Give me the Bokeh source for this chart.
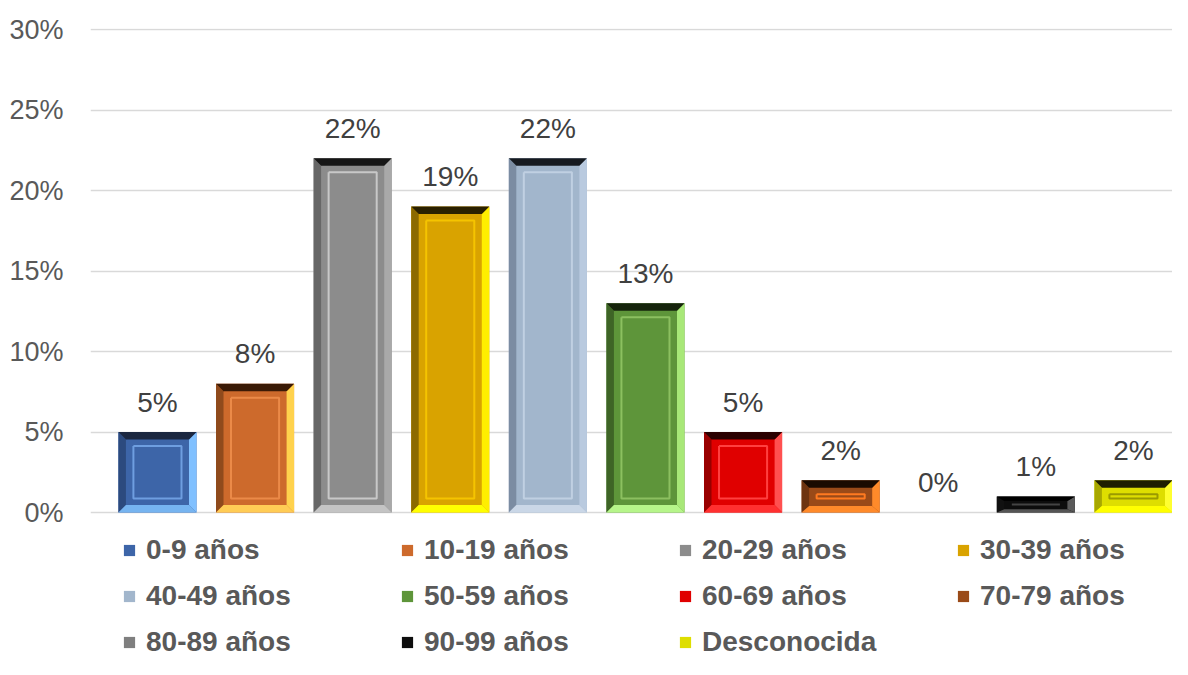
from bokeh.plotting import figure
from bokeh.models import ColumnDataSource, Range1d, FixedTicker, PrintfTickFormatter, Legend, LegendItem
from bokeh.embed import file_html
from bokeh.resources import INLINE
from bokeh.core.properties import value

# ---------------- data ----------------
categories = ["0-9 años", "10-19 años", "20-29 años", "30-39 años", "40-49 años",
              "50-59 años", "60-69 años", "70-79 años", "80-89 años", "90-99 años",
              "Desconocida"]
percent = [5, 8, 22, 19, 22, 13, 5, 2, 0, 1, 2]
y_ticks = [0, 5, 10, 15, 20, 25, 30]

# ---------------- styles ----------------
main_colors = ["#3d65a8", "#cd6a2c", "#8c8c8c", "#d9a300", "#a2b6cc", "#5e953a",
               "#e00000", "#9a4a18", "#7f7f7f", "#0d0d0d", "#dede00"]
top_colors = ["#1b2740", "#3a1a06", "#161616", "#2a2000", "#161a20", "#16240c",
              "#2a0000", "#1a0a00", "#111111", "#000000", "#1f1f00"]
left_colors = ["#2c4a7e", "#8f4a1c", "#676767", "#8c6a00", "#7b8ca2", "#3e6426",
               "#990000", "#6e3410", "#5f5f5f", "#111111", "#a8a800"]
right_colors = ["#80c0ff", "#ffd24d", "#a9a9a9", "#ffee00", "#b9cadf", "#a8e878",
                "#ff5050", "#ff8a2a", "#a0a0a0", "#5a5a5a", "#ffff30"]
bottom_colors = ["#76b4f0", "#ffcc55", "#c4c4c4", "#ffff00", "#cad7e7", "#b6f58a",
                 "#ff3030", "#ff8a2a", "#bdbdbd", "#555555", "#ffff00"]
inner_colors = ["#6e9ee0", "#eb8a48", "#c8c8c8", "#f5c400", "#c0d0e2", "#8cc060",
                "#ff4040", "#ff7a20", "#a0a0a0", "#444444", "#9a9a00"]

W, H = 1172, 659
px_x = 97.6   # pixels per category unit
px_y = 16.1   # pixels per percent
p = figure(width=W, height=H, output_backend="svg", toolbar_location=None,
           x_axis_location=None,
           x_range=Range1d(-0.686, 10.4), y_range=Range1d(-(659 - 512) / px_y, 30 + 1 / px_y),
           min_border_left=90, min_border_right=0, min_border_top=28, min_border_bottom=0,
           outline_line_color=None, background_fill_color="white", border_fill_color="white")

# axis
p.yaxis.ticker = FixedTicker(ticks=y_ticks)
p.yaxis.formatter = PrintfTickFormatter(format="%d%%")
p.yaxis.major_label_text_font = "Liberation Sans"
p.yaxis.major_label_text_font_size = "27px"
p.yaxis.major_label_text_color = "#595959"
p.yaxis.axis_line_color = None
p.yaxis.major_tick_line_color = None
p.yaxis.minor_tick_line_color = None
p.yaxis.major_tick_out = 0
p.yaxis.major_tick_in = 0
p.yaxis.major_label_standoff = 27

p.xgrid.visible = False
p.ygrid.ticker = FixedTicker(ticks=y_ticks)
p.ygrid.grid_line_color = "#d9d9d9"
p.ygrid.grid_line_width = 1.5

# bars
idx = list(range(len(categories)))
bw = 0.8
src = ColumnDataSource(dict(x=idx, top=percent, color=main_colors))
bars = p.vbar(x="x", top="top", bottom=0, width=bw, fill_color="color", line_color=None, source=src)

# bevel geometry (derived from the data values)
bx = 7.5 / px_x
top_xs, top_ys, left_xs, left_ys, right_xs, right_ys, bot_xs, bot_ys = [], [], [], [], [], [], [], []
in_xs, in_ys = [], []
for i, v in zip(idx, percent):
    if v <= 0:
        continue
    x0, x1 = i - bw / 2, i + bw / 2
    by = min(7.5 / px_y, v * 0.28)
    bb = min(7.5 / px_y, v * 0.2)
    top_xs.append([x0, x1, x1 - bx, x0 + bx]); top_ys.append([v, v, v - by, v - by])
    left_xs.append([x0, x0, x0 + bx, x0 + bx]); left_ys.append([0, v, v - by, bb])
    right_xs.append([x1, x1, x1 - bx, x1 - bx]); right_ys.append([0, v, v - by, bb])
    bot_xs.append([x0, x1, x1 - bx, x0 + bx]); bot_ys.append([0, 0, bb, bb])
    ix = 15 / px_x
    iy = min(14 / px_y, v * 0.5)
    in_xs.append([x0 + ix, x1 - ix, x1 - ix, x0 + ix, x0 + ix])
    in_ys.append([v - iy, v - iy, iy, iy, v - iy])

nz = [i for i, v in zip(idx, percent) if v > 0]
p.patches(left_xs, left_ys, fill_color=[left_colors[i] for i in nz], line_color=None)
p.patches(right_xs, right_ys, fill_color=[right_colors[i] for i in nz], line_color=None)
p.patches(bot_xs, bot_ys, fill_color=[bottom_colors[i] for i in nz], line_color=None)
p.patches(top_xs, top_ys, fill_color=[top_colors[i] for i in nz], line_color=None)
p.multi_line(in_xs, in_ys, line_color=[inner_colors[i] for i in nz], line_width=2)

# value labels
p.text(x=idx, y=percent, text=[f"{v}%" for v in percent],
       text_align="center", text_baseline="alphabetic", y_offset=-30,
       text_font=value("Liberation Sans"), text_font_size=value("28px"), text_color="#404040")

# legend
items = [LegendItem(label=categories[i], renderers=[bars], index=i) for i in idx]
legend = Legend(items=items, ncols=4, orientation="horizontal", location=(32, 1),
                glyph_width=14, glyph_height=14, label_standoff=10, label_width=240,
                label_height=30, spacing=14, padding=0, margin=0,
                label_text_font="Liberation Sans", label_text_font_style="bold",
                label_text_font_size="28px", label_text_color="#595959",
                border_line_color=None, background_fill_alpha=0)
p.add_layout(legend)

open("out.html", "w").write(file_html(p, INLINE))
